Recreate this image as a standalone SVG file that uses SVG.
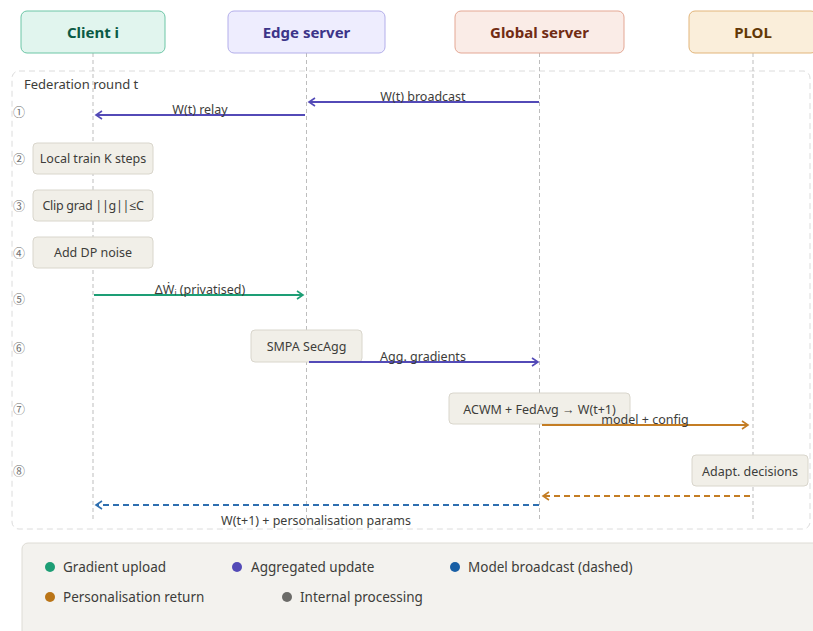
<svg xmlns="http://www.w3.org/2000/svg" width="813" height="631" viewBox="0 0 813 631">
<style>
text{font-family:"Noto Sans","Open Sans","Liberation Sans",sans-serif;}
.hd{font-size:15px;font-weight:bold;text-anchor:middle;}
.lbl{font-size:12.5px;fill:#3d3d3a;}
.step{font-size:12.5px;fill:#3d3d3a;text-anchor:middle;}
.num{font-family:"Noto Sans CJK SC","Noto Sans CJK JP",sans-serif;font-size:12px;fill:#6f6f6f;}
.box{fill:#f1efe8;stroke:#d9d6cc;stroke-width:1;}
.life{stroke:#bdbdbd;stroke-width:1;stroke-dasharray:4 3;}
.leg{font-size:13.5px;fill:#3d3d3a;}
</style>
<defs>
<marker id="ap" markerWidth="10" markerHeight="10" refX="8" refY="5" orient="auto" markerUnits="userSpaceOnUse"><polyline points="2,1 8,5 2,9" fill="none" stroke="#534ab7" stroke-width="1.6"/></marker>
<marker id="ag" markerWidth="10" markerHeight="10" refX="8" refY="5" orient="auto" markerUnits="userSpaceOnUse"><polyline points="2,1 8,5 2,9" fill="none" stroke="#1d9e75" stroke-width="1.6"/></marker>
<marker id="ao" markerWidth="10" markerHeight="10" refX="8" refY="5" orient="auto" markerUnits="userSpaceOnUse"><polyline points="2,1 8,5 2,9" fill="none" stroke="#c47d24" stroke-width="1.6"/></marker>
<marker id="ab" markerWidth="10" markerHeight="10" refX="8" refY="5" orient="auto" markerUnits="userSpaceOnUse"><polyline points="2,1 8,5 2,9" fill="none" stroke="#2e6fb0" stroke-width="1.6"/></marker>
</defs>
<rect width="813" height="631" fill="#ffffff"/>

<g id="frame">
<rect x="12" y="71" width="798" height="458" rx="7" fill="none" stroke="#dcdcdc" stroke-dasharray="6 4"/>
<text x="24" y="89" class="lbl" style="font-size:13px">Federation round t</text>
<text x="13" y="117" class="num">①</text>
<text x="13" y="164" class="num">②</text>
<text x="13" y="211" class="num">③</text>
<text x="13" y="258" class="num">④</text>
<text x="13" y="304" class="num">⑤</text>
<text x="13" y="353" class="num">⑥</text>
<text x="13" y="414" class="num">⑦</text>
<text x="13" y="476" class="num">⑧</text>
</g>

<g id="lifelines">
<line class="life" x1="93" y1="53" x2="93" y2="522"/>
<line class="life" x1="306.5" y1="53" x2="306.5" y2="522"/>
<line class="life" x1="539.5" y1="53" x2="539.5" y2="522"/>
<line class="life" x1="753" y1="53" x2="753" y2="522"/>
</g>

<g id="client">
<rect x="21" y="11" width="144" height="42" rx="6" fill="#e1f5ee" stroke="#6cc6a6"/>
<text x="93" y="38" class="hd" fill="#0b5a45">Client i</text>
</g>
<g id="edge">
<rect x="228" y="11" width="157" height="42" rx="6" fill="#eeedfe" stroke="#b3aeea"/>
<text x="306.5" y="38" class="hd" fill="#3c3489">Edge server</text>
</g>
<g id="global">
<rect x="455" y="11" width="169" height="42" rx="6" fill="#faece7" stroke="#e4a794"/>
<text x="539.5" y="38" class="hd" fill="#712b13">Global server</text>
</g>
<g id="plol">
<rect x="689" y="11" width="128" height="42" rx="6" fill="#faeeda" stroke="#e2b57a"/>
<text x="753" y="38" class="hd" fill="#633806">PLOL</text>
</g>

<g id="local-train">
<rect class="box" x="33" y="143" width="120" height="31" rx="4"/>
<text x="93" y="163" class="step">Local train K steps</text>
</g>
<g id="clip-grad">
<rect class="box" x="33" y="190" width="120" height="31" rx="4"/>
<text x="93" y="210" class="step" letter-spacing="-0.3">Clip grad ||g||≤C</text>
</g>
<g id="dp-noise">
<rect class="box" x="33" y="237" width="120" height="31" rx="4"/>
<text x="93" y="257" class="step">Add DP noise</text>
</g>
<g id="secagg">
<rect class="box" x="251" y="330" width="111" height="32" rx="4"/>
<text x="306.5" y="351" class="step">SMPA SecAgg</text>
</g>
<g id="acwm">
<rect class="box" x="449" y="393" width="181" height="31" rx="4"/>
<text x="539.5" y="414" class="step">ACWM + FedAvg → W(t+1)</text>
</g>
<g id="adapt">
<rect class="box" x="692" y="455" width="116" height="31" rx="4"/>
<text x="750" y="476" class="step">Adapt. decisions</text>
</g>

<g id="connectors" fill="none" stroke-width="2">
<line x1="539" y1="102" x2="309" y2="102" stroke="#534ab7" marker-end="url(#ap)"/>
<line x1="305" y1="115" x2="96" y2="115" stroke="#534ab7" marker-end="url(#ap)"/>
<line x1="94" y1="295" x2="303" y2="295" stroke="#1d9e75" marker-end="url(#ag)"/>
<line x1="309" y1="362" x2="538" y2="362" stroke="#534ab7" marker-end="url(#ap)"/>
<line x1="542" y1="425" x2="748" y2="425" stroke="#c47d24" marker-end="url(#ao)"/>
<line x1="750" y1="496" x2="543" y2="496" stroke="#c47d24" stroke-dasharray="6 4" marker-end="url(#ao)"/>
<line x1="539" y1="505" x2="96" y2="505" stroke="#2e6fb0" stroke-dasharray="6 4" marker-end="url(#ab)"/>
</g>
<g id="connector-labels">
<text x="423" y="101" class="lbl" text-anchor="middle">W(t) broadcast</text>
<text x="200" y="114" class="lbl" text-anchor="middle">W(t) relay</text>
<text x="200" y="294" class="lbl" text-anchor="middle">ΔẆᵢ (privatised)</text>
<text x="423" y="361" class="lbl" text-anchor="middle">Agg. gradients</text>
<text x="645" y="424" class="lbl" text-anchor="middle">model + config</text>
<text x="316" y="525" class="lbl" text-anchor="middle">W(t+1) + personalisation params</text>
</g>

<g id="legend">
<rect x="22" y="543" width="800" height="100" rx="6" fill="#f3f2ee" stroke="#dedcd5"/>
<circle cx="50" cy="567" r="5" fill="#1d9e75"/>
<text x="63" y="572" class="leg">Gradient upload</text>
<circle cx="237" cy="567" r="5" fill="#534ab7"/>
<text x="251" y="572" class="leg">Aggregated update</text>
<circle cx="455" cy="567" r="5" fill="#185fa5"/>
<text x="468" y="572" class="leg">Model broadcast (dashed)</text>
<circle cx="50" cy="597" r="5" fill="#ba7517"/>
<text x="63" y="602" class="leg">Personalisation return</text>
<circle cx="287" cy="597" r="5" fill="#6b6b68"/>
<text x="300" y="602" class="leg">Internal processing</text>
</g>
</svg>
